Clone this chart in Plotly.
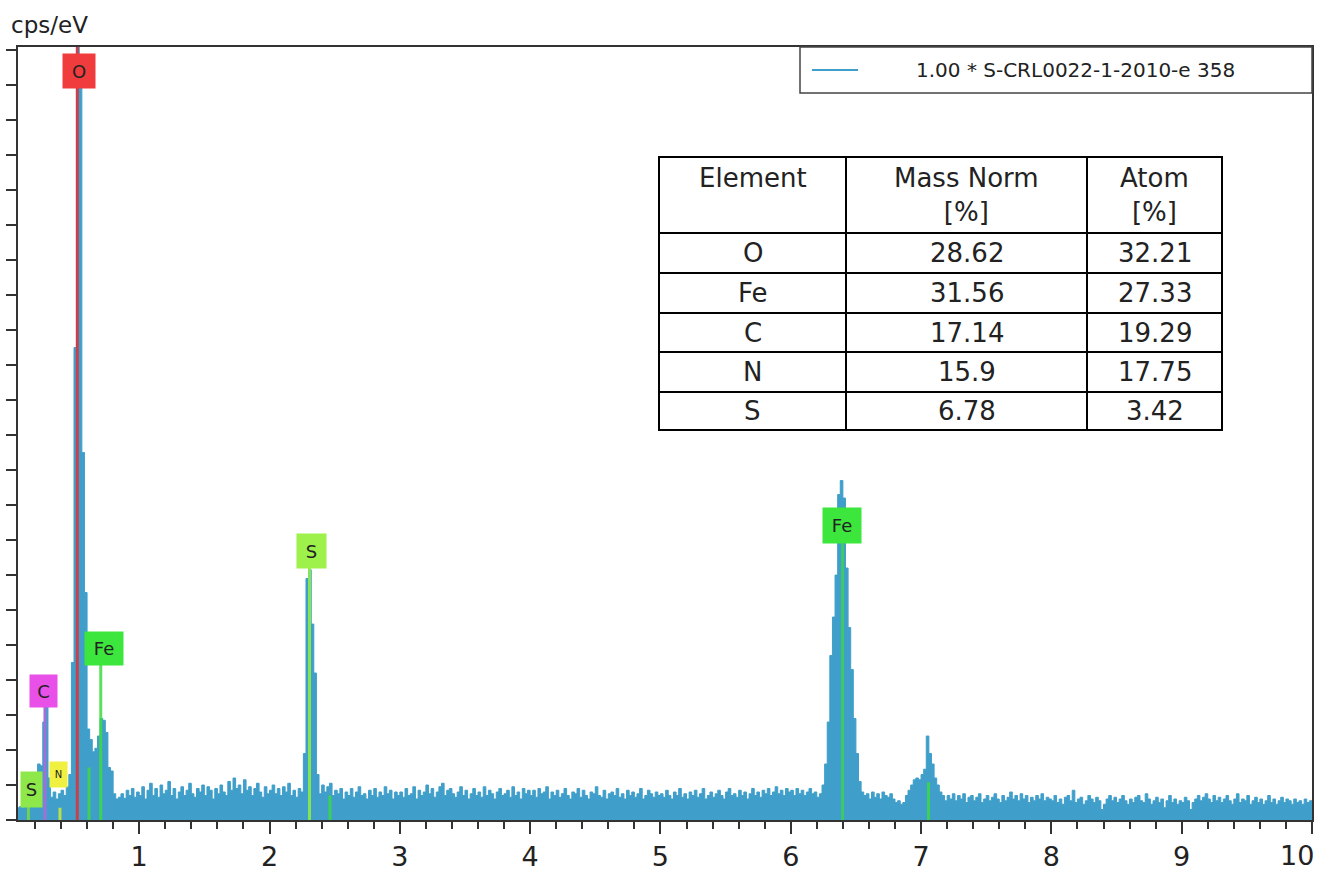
import plotly.graph_objects as go

# ---------------- data ----------------
channel_start = 0.0      # keV
channel_width = 0.02     # keV
counts = [
    # 0.00 - 0.98 keV
    0.3, 0.3, 0.3, 0.35, 0.38, 0.35, 0.42, 0.4, 0.55, 0.75,
    1.1, 1.6, 1.55, 2.8, 3.35, 1.2, 0.65, 0.8, 0.6, 0.75,
    0.85, 0.7, 0.95, 1.3, 4.5, 13.5, 25.0, 21.0, 10.5, 6.5,
    2.6, 2.3, 1.95, 2.05, 2.4, 2.9, 2.85, 2.5, 1.5, 1.4,
    0.75, 0.6, 0.65, 0.75, 0.62, 0.85, 0.7, 0.9, 0.65, 0.8,
    # 1.00 - 1.98
    0.7, 0.95, 0.6, 0.85, 1.05, 0.7, 0.9, 0.65, 1.0, 0.75,
    0.85, 1.1, 0.7, 0.9, 0.6, 0.8, 0.95, 0.7, 0.85, 1.05,
    0.75, 0.65, 0.9, 0.8, 1.0, 0.7, 0.95, 0.85, 0.6, 0.9,
    0.75, 1.0, 0.8, 0.7, 1.1, 0.85, 1.2, 0.9, 1.0, 0.75,
    1.15, 0.85, 0.95, 0.7, 0.9, 1.05, 0.8, 0.65, 0.95, 0.75,
    # 2.00 - 2.98
    0.85, 1.0, 0.75, 0.9, 0.7, 0.95, 0.8, 1.05, 0.7, 0.85,
    0.65, 0.9, 0.8, 1.9, 6.9, 7.15, 5.6, 4.2, 1.3, 0.75,
    1.0, 0.8, 0.95, 1.05, 0.7, 0.85, 0.75, 0.9, 0.6, 0.8,
    0.7, 0.9, 0.65, 0.8, 0.95, 0.7, 0.75, 0.6, 0.85, 0.7,
    0.9, 0.65, 0.8, 0.7, 0.95, 0.75, 0.85, 0.6, 0.8, 0.7,
    # 3.00 - 3.98
    0.8, 0.65, 0.9, 0.7, 0.75, 0.95, 0.6, 0.85, 0.7, 0.8,
    1.0, 0.75, 0.9, 0.65, 0.8, 0.95, 1.05, 0.7, 0.85, 0.9,
    0.75, 0.65, 0.8, 0.95, 0.7, 0.85, 0.6, 0.75, 0.9, 0.7,
    0.8, 0.65, 0.95, 0.7, 0.85, 0.75, 0.6, 0.8, 0.9, 0.7,
    0.75, 0.85, 0.65, 0.95, 0.7, 0.8, 0.6, 0.9, 0.75, 0.85,
    # 4.00 - 4.98
    0.7, 0.85, 0.65, 0.9, 0.75, 0.8, 0.95, 0.6, 0.8, 0.7,
    0.85, 0.65, 0.75, 0.9, 0.7, 0.6, 0.8, 0.75, 0.9, 0.65,
    0.85, 0.7, 0.6, 0.8, 0.75, 0.95, 0.7, 0.65, 0.85, 0.6,
    0.75, 0.8, 0.7, 0.9, 0.65, 0.75, 0.6, 0.85, 0.7, 0.8,
    0.65, 0.75, 0.9, 0.6, 0.7, 0.85, 0.75, 0.65, 0.8, 0.7,
    # 5.00 - 5.98
    0.75, 0.65, 0.85, 0.7, 0.6, 0.8, 0.7, 0.9, 0.65, 0.75,
    0.6, 0.8, 0.7, 0.85, 0.65, 0.75, 0.9, 0.6, 0.7, 0.8,
    0.65, 0.75, 0.85, 0.7, 0.6, 0.8, 0.9, 0.7, 0.75, 0.65,
    0.85, 0.7, 0.8, 0.6, 0.75, 0.9, 0.7, 0.8, 0.65, 0.85,
    0.75, 0.9, 0.7, 0.8, 0.95, 0.75, 0.85, 0.7, 0.9, 0.8,
    # 6.00 - 6.98
    0.85, 0.7, 0.9, 0.75, 0.85, 0.7, 0.8, 0.9, 0.75, 0.8,
    0.65, 0.75, 1.0, 1.6, 2.8, 4.7, 5.8, 7.0, 9.3, 9.7,
    9.2, 7.2, 5.5, 4.3, 2.9, 1.9, 1.1, 0.8, 0.7, 0.75,
    0.6, 0.8, 0.65, 0.75, 0.6, 0.8, 0.7, 0.65, 0.75, 0.6,
    0.5, 0.55, 0.45, 0.5, 0.7, 0.85, 1.0, 1.15, 1.2, 1.15,
    # 7.00 - 7.98
    1.3, 1.45, 2.4, 1.9, 1.6, 1.2, 1.0, 0.8, 0.7, 0.55,
    0.7, 0.6, 0.75, 0.55, 0.7, 0.6, 0.75, 0.5, 0.65, 0.7,
    0.55, 0.65, 0.75, 0.5, 0.6, 0.7, 0.55, 0.65, 0.75, 0.6,
    0.5, 0.7, 0.55, 0.65, 0.8, 0.6, 0.7, 0.55, 0.75, 0.6,
    0.7, 0.5, 0.65, 0.55, 0.7, 0.6, 0.75, 0.55, 0.65, 0.6,
    # 8.00 - 8.98
    0.55, 0.7, 0.5, 0.6, 0.45, 0.65, 0.7, 0.55, 0.85, 0.5,
    0.6, 0.65, 0.45, 0.55, 0.7, 0.6, 0.5, 0.65, 0.55, 0.3,
    0.45, 0.6, 0.7, 0.55, 0.65, 0.5, 0.6, 0.7, 0.55, 0.45,
    0.6, 0.5, 0.65, 0.7, 0.55, 0.5, 0.75, 0.6, 0.45, 0.55,
    0.65, 0.5, 0.6, 0.35, 0.55, 0.7, 0.5, 0.6, 0.45, 0.55,
    # 9.00 - 10.00
    0.5, 0.65, 0.55, 0.3, 0.5, 0.6, 0.7, 0.55, 0.65, 0.75,
    0.6, 0.5, 0.7, 0.55, 0.65, 0.5, 0.6, 0.7, 0.55, 0.45,
    0.6, 0.75, 0.5, 0.6, 0.55, 0.7, 0.45, 0.55, 0.65, 0.5,
    0.6, 0.45, 0.55, 0.7, 0.5, 0.6, 0.45, 0.55, 0.65, 0.5,
    0.6, 0.55, 0.45, 0.6, 0.5, 0.55, 0.45, 0.6, 0.5, 0.55,
    0.5,
]
series_name = "1.00 * S-CRL0022-1-2010-e 358"

# element marker lines (energy keV, top height, colour)
line_energy = [0.15, 0.277, 0.392, 0.525, 0.615, 0.705, 2.307, 2.464, 6.398, 7.057]
line_top    = [0.5, 3.23, 0.35, 22.2, 1.5, 4.43, 7.23, 0.7, 7.9, 1.08]
line_color  = ["rgba(120,220,60,0.85)", "#a070d8", "rgba(200,230,60,0.9)", "#c8404c",
               "rgba(60,220,60,0.8)", "rgba(60,220,60,0.85)", "rgba(140,235,70,0.9)",
               "rgba(60,220,60,0.8)", "rgba(60,220,60,0.7)", "rgba(60,220,60,0.8)"]

# element label boxes
label_text   = ["O", "C", "Fe", "S", "Fe", "N", "S"]
label_x      = [0.54, 0.263, 0.73, 2.32, 6.395, 0.378, 0.171]
label_y      = [21.4, 3.69, 4.9, 7.7, 8.43, 1.29, 0.86]
label_bg     = ["#f03c3c", "#e850e8", "#3ce63c", "#9ef04a", "#3ce63c", "#f0f040", "#8ee84a"]
label_w      = [32, 27, 38, 29, 38, 17, 21]
label_h      = [34, 32, 33, 34, 35, 25, 35]
label_size   = [18, 18, 18, 18, 18, 10, 18]

# quantification table
tbl_header  = ["Element", "Mass Norm<br>[%]", "Atom<br>[%]"]
tbl_element = ["O", "Fe", "C", "N", "S"]
tbl_mass    = ["28.62", "31.56", "17.14", "15.9", "6.78"]
tbl_atom    = ["32.21", "27.33", "19.29", "17.75", "3.42"]

x_ticks = [1, 2, 3, 4, 5, 6, 7, 8, 9, 10]
x_tick_labels = ["1", "2", "3", "4", "5", "6", "7", "8", "9", "10"]

# ---------------- layout helpers (pixel -> paper) ----------------
W, H = 1322, 873
ML, MR, MT, MB = 18, 10, 47, 53
PW, PH = W - ML - MR, H - MT - MB


def px(x):
    return (x - ML) / PW


def py(y):
    return (H - MB - y) / PH


energies = [channel_start + i * channel_width for i in range(len(counts))]
FONT = "DejaVu Sans"
BLUE = "#3f9fca"
TXT = "#222"

fig = go.Figure()
fig.add_trace(go.Scatter(
    x=energies, y=counts, mode="lines", line=dict(color=BLUE, width=1.0, shape="hv"),
    fill="tozeroy", fillcolor=BLUE, name=series_name, showlegend=False,
))

for e, t, c in zip(line_energy, line_top, line_color):
    fig.add_shape(type="line", xref="x", yref="y", x0=e, x1=e, y0=0, y1=t,
                  line=dict(color=c, width=3))

for txt, lx, ly, bg, w, h, s in zip(label_text, label_x, label_y, label_bg, label_w, label_h, label_size):
    fig.add_annotation(x=lx, y=ly, xref="x", yref="y", text=txt, showarrow=False,
                       bgcolor=bg, width=w, height=h, font=dict(family=FONT, size=s, color=TXT),
                       borderpad=0)

# ---- legend box (drawn) ----
fig.add_shape(type="rect", xref="paper", yref="paper", x0=px(800), x1=px(1312), y0=py(93), y1=py(47),
              line=dict(color="#444", width=1.5), fillcolor="white", layer="above")
fig.add_shape(type="line", xref="paper", yref="paper", x0=px(812), x1=px(858), y0=py(70), y1=py(70),
              line=dict(color=BLUE, width=2))
fig.add_annotation(xref="paper", yref="paper", x=px(914), y=py(70), xanchor="left", yanchor="middle",
                   text=series_name, showarrow=False, font=dict(family=FONT, size=20, color=TXT))

# ---- table (drawn) ----
col_edges = [659, 846, 1087, 1222]
row_edges = [157, 233, 273, 313, 352, 392, 430]
fig.add_shape(type="rect", xref="paper", yref="paper", x0=px(col_edges[0]), x1=px(col_edges[-1]),
              y0=py(row_edges[-1]), y1=py(row_edges[0]), line=dict(color="black", width=2),
              fillcolor="white")
for cx in col_edges[1:-1]:
    fig.add_shape(type="line", xref="paper", yref="paper", x0=px(cx), x1=px(cx),
                  y0=py(row_edges[-1]), y1=py(row_edges[0]), line=dict(color="black", width=2))
for ry in row_edges[1:-1]:
    fig.add_shape(type="line", xref="paper", yref="paper", x0=px(col_edges[0]), x1=px(col_edges[-1]),
                  y0=py(ry), y1=py(ry), line=dict(color="black", width=2))
col_centers = [(col_edges[i] + col_edges[i + 1]) / 2 for i in range(3)]
for cxc, htxt in zip(col_centers, tbl_header):
    fig.add_annotation(xref="paper", yref="paper", x=px(cxc), y=py(161), xanchor="center",
                       yanchor="top", text=htxt, showarrow=False, align="center",
                       font=dict(family=FONT, size=26, color=TXT))
columns = [tbl_element, tbl_mass, tbl_atom]
for ci, col in enumerate(columns):
    for ri, val in enumerate(col):
        ryc = (row_edges[ri + 1] + row_edges[ri + 2]) / 2
        fig.add_annotation(xref="paper", yref="paper", x=px(col_centers[ci]), y=py(ryc),
                           xanchor="center", yanchor="middle", text=val, showarrow=False,
                           font=dict(family=FONT, size=26, color=TXT))

fig.add_annotation(xref="paper", yref="paper", x=px(9), y=py(40), xanchor="left", yanchor="bottom",
                   text="cps/eV", showarrow=False, font=dict(family=FONT, size=23, color=TXT))

# last tick label sits at the frame edge; shown right-aligned so it stays inside the page
fig.add_annotation(xref="x", yref="paper", x=x_ticks[-1], y=py(838), xanchor="right", yanchor="top",
                   xshift=4, text=x_tick_labels[-1], showarrow=False,
                   font=dict(family=FONT, size=27, color=TXT))

fig.update_layout(
    width=W, height=H,
    margin=dict(l=ML, r=MR, t=MT, b=MB, autoexpand=False),
    paper_bgcolor="white", plot_bgcolor="white",
    font=dict(family=FONT, color=TXT),
    showlegend=False,
)
fig.update_xaxes(range=[0.07, 10.0], tickvals=x_ticks, ticktext=x_tick_labels[:-1] + [""],
                 ticks="outside", ticklen=12, tickwidth=1.5,
                 tickcolor="#333", showline=True, linecolor="#333", linewidth=1.5, mirror=True,
                 showgrid=False, zeroline=False, automargin=False,
                 tickfont=dict(family=FONT, size=27, color=TXT),
                 minor=dict(dtick=0.2, tick0=0, ticks="outside", ticklen=7, tickwidth=1.5, tickcolor="#333"))
fig.update_yaxes(range=[0, 22.09], dtick=1, tick0=0, ticks="outside", ticklen=10, tickwidth=1.5,
                 tickcolor="#333", showticklabels=False, showline=True, linecolor="#333",
                 linewidth=1.5, mirror=True, showgrid=False, zeroline=False, automargin=False)

fig.write_html("out.html", config={"displayModeBar": False},
               post_script="document.body.style.margin='0';document.body.style.overflow='hidden';")
